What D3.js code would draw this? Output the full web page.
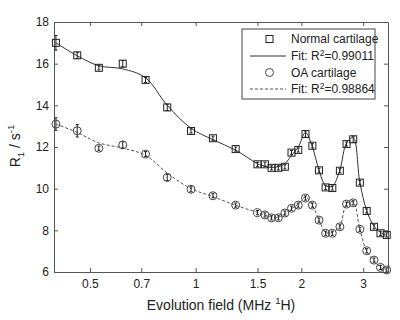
<!DOCTYPE html>
<html lang="en">
<head>
    <meta charset="UTF-8">
    <script src="https://cdn.jsdelivr.net/npm/d3@7/dist/d3.min.js"></script>
    <style>
        body { margin: 0; background: white; }
        svg { font-family: "Liberation Sans", Arial, sans-serif; }
        .axis path, .axis line { stroke: #555; }
        .axis text { fill: #222; font-size: 12px; }
    </style>
</head>
<body>
<svg id="chart" width="400" height="320"></svg>
<script>
    // evolution field, MHz 1H
    var field = [0.40, 0.46, 0.53, 0.62, 0.72, 0.83, 0.97, 1.12, 1.30, 1.50, 1.575, 1.645, 1.72, 1.795,
                 1.875, 1.96, 2.055, 2.15, 2.245, 2.345, 2.45, 2.575, 2.69, 2.81, 2.935, 3.07, 3.22, 3.36, 3.50];

    // normal cartilage R1 (s^-1), error and fit
    var normalR1 = [17.0, 16.4, 15.8, 16.0, 15.22, 13.9, 12.77, 12.42, 11.9, 11.17, 11.17, 11.0, 11.0, 11.05,
                    11.73, 11.86, 12.62, 12.06, 10.88, 10.06, 10.03, 10.86, 12.14, 12.37, 10.29, 8.93, 8.17, 7.86, 7.78];
    var normalErr = [0.35, 0.15, 0.1, 0.15, 0.12, 0.15, 0.1, 0.1, 0.1, 0.1, 0.1, 0.1, 0.1, 0.1,
                     0.1, 0.1, 0.15, 0.1, 0.1, 0.1, 0.1, 0.1, 0.1, 0.15, 0.1, 0.1, 0.1, 0.1, 0.1];
    var normalFit = [17.0, 16.38, 15.9, 15.75, 15.32, 14.0, 12.9, 12.35, 11.85, 11.2, 11.08, 11.02, 11.06, 11.2,
                     11.6, 12.0, 12.7, 12.0, 10.9, 10.15, 10.12, 10.9, 12.2, 12.45, 10.3, 8.95, 8.2, 7.9, 7.75];

    // OA cartilage
    var oaR1 = [13.1, 12.78, 11.94, 12.1, 11.66, 10.54, 9.97, 9.66, 9.21, 8.85, 8.74, 8.6, 8.6, 8.83,
                9.06, 9.21, 9.55, 9.21, 8.49, 7.86, 7.86, 8.17, 9.26, 9.32, 8.05, 7.02, 6.57, 6.22, 6.1];
    var oaErr = [0.3, 0.3, 0.1, 0.15, 0.12, 0.15, 0.12, 0.1, 0.1, 0.1, 0.1, 0.1, 0.1, 0.1,
                 0.1, 0.1, 0.1, 0.1, 0.1, 0.1, 0.1, 0.1, 0.1, 0.1, 0.1, 0.1, 0.1, 0.1, 0.1];
    var oaFit = [13.1, 12.7, 12.2, 11.95, 11.6, 10.75, 10.0, 9.62, 9.2, 8.86, 8.73, 8.63, 8.63, 8.8,
                 9.04, 9.26, 9.6, 9.2, 8.5, 7.9, 7.9, 8.2, 9.28, 9.36, 8.05, 7.0, 6.55, 6.22, 6.08];

    var xTicks = [0.5, 0.7, 1, 1.5, 2, 3];
    var yTicks = [6, 8, 10, 12, 14, 16, 18];
    var legendLabels = ["Normal cartilage", "Fit: R", "OA cartilage", "Fit: R"];
    var legendR2 = ["", "=0.99011", "", "=0.98864"];

    var margin = { top: 22, right: 12, bottom: 48, left: 54 };
    var width = 400 - margin.left - margin.right;
    var height = 320 - margin.top - margin.bottom;

    var svg = d3.select("#chart");
    var g = svg.append("g").attr("transform", "translate(" + margin.left + "," + margin.top + ")");

    var x = d3.scaleLog().domain([0.395, 3.53]).range([0, width]);
    var y = d3.scaleLinear().domain([6, 18]).range([height, 0]);

    // axes on all four sides, ticks pointing inward
    g.append("g").attr("class", "axis")
        .attr("transform", "translate(0," + height + ")")
        .call(d3.axisBottom(x).tickValues(xTicks).tickFormat(d3.format("")).tickSizeInner(-4).tickSizeOuter(0).tickPadding(7));
    g.append("g").attr("class", "axis")
        .call(d3.axisTop(x).tickValues(xTicks).tickFormat("").tickSizeInner(-4).tickSizeOuter(0));
    g.append("g").attr("class", "axis")
        .call(d3.axisLeft(y).tickValues(yTicks).tickSizeInner(-4).tickSizeOuter(0).tickPadding(5));
    g.append("g").attr("class", "axis")
        .attr("transform", "translate(" + width + ",0)")
        .call(d3.axisRight(y).tickValues(yTicks).tickFormat("").tickSizeInner(-4).tickSizeOuter(0));

    // fit curves
    var line = d3.line()
        .x(function(d) { return x(d[0]); })
        .y(function(d) { return y(d[1]); })
        .curve(d3.curveCatmullRom.alpha(0.5));

    g.append("path")
        .datum(d3.zip(field, normalFit))
        .attr("d", line)
        .attr("fill", "none")
        .attr("stroke", "#333")
        .attr("stroke-width", 1);
    g.append("path")
        .datum(d3.zip(field, oaFit))
        .attr("d", line)
        .attr("fill", "none")
        .attr("stroke", "#555")
        .attr("stroke-width", 1)
        .attr("stroke-dasharray", "3,2");

    // error bars
    function drawErrors(vals, errs) {
        var eg = g.append("g");
        field.forEach(function(f, i) {
            var cx = x(f);
            eg.append("line")
                .attr("x1", cx).attr("x2", cx)
                .attr("y1", y(vals[i] - errs[i])).attr("y2", y(vals[i] + errs[i]))
                .attr("stroke", "#222").attr("stroke-width", 1);
            [vals[i] - errs[i], vals[i] + errs[i]].forEach(function(v) {
                eg.append("line")
                    .attr("x1", cx - 1.5).attr("x2", cx + 1.5)
                    .attr("y1", y(v)).attr("y2", y(v))
                    .attr("stroke", "#222").attr("stroke-width", 1);
            });
        });
    }
    drawErrors(normalR1, normalErr);
    drawErrors(oaR1, oaErr);

    // markers
    g.append("g").selectAll("rect")
        .data(d3.zip(field, normalR1))
        .enter().append("rect")
        .attr("x", function(d) { return x(d[0]) - 3.5; })
        .attr("y", function(d) { return y(d[1]) - 3.5; })
        .attr("width", 7).attr("height", 7)
        .attr("fill", "none").attr("stroke", "#222").attr("stroke-width", 1);

    g.append("g").selectAll("circle")
        .data(d3.zip(field, oaR1))
        .enter().append("circle")
        .attr("cx", function(d) { return x(d[0]); })
        .attr("cy", function(d) { return y(d[1]); })
        .attr("r", 4)
        .attr("fill", "none").attr("stroke", "#444").attr("stroke-width", 1);

    // legend
    var lg = svg.append("g").attr("transform", "translate(242,29)");
    lg.append("rect").attr("width", 133).attr("height", 70)
        .attr("fill", "white").attr("stroke", "#444").attr("stroke-width", 1);
    var rowY = [10, 27, 43.5, 60];
    legendLabels.forEach(function(lab, i) {
        var t = lg.append("text").attr("x", 49).attr("y", rowY[i] + 4)
            .attr("font-size", "12px").attr("fill", "#222").text(lab);
        if (legendR2[i]) {
            t.append("tspan").attr("dy", -4).attr("font-size", "8.5px").text("2");
            t.append("tspan").attr("dy", 4).text(legendR2[i]);
        }
    });
    lg.append("rect").attr("x", 24).attr("y", rowY[0] - 3.5).attr("width", 7).attr("height", 7)
        .attr("fill", "none").attr("stroke", "#222");
    lg.append("line").attr("x1", 8).attr("x2", 44).attr("y1", rowY[1]).attr("y2", rowY[1])
        .attr("stroke", "#333");
    lg.append("circle").attr("cx", 27.5).attr("cy", rowY[2]).attr("r", 4)
        .attr("fill", "none").attr("stroke", "#444");
    lg.append("line").attr("x1", 8).attr("x2", 44).attr("y1", rowY[3]).attr("y2", rowY[3])
        .attr("stroke", "#555").attr("stroke-dasharray", "3,2");

    // axis titles
    var xt = svg.append("text").attr("x", margin.left + 167).attr("y", 310)
        .attr("text-anchor", "middle").attr("font-size", "14px").attr("fill", "#222")
        .text("Evolution field (MHz ");
    xt.append("tspan").attr("dy", -6).attr("font-size", "9.5px").text("1");
    xt.append("tspan").attr("dy", 6).text("H)");

    var yt = svg.append("text")
        .attr("transform", "translate(20,146) rotate(-90)")
        .attr("text-anchor", "middle").attr("font-size", "14px").attr("fill", "#222")
        .text("R");
    yt.append("tspan").attr("dy", 4).attr("font-size", "9.5px").text("1");
    yt.append("tspan").attr("dy", -4).text(" / s");
    yt.append("tspan").attr("dy", -6).attr("font-size", "9.5px").text("-1");
</script>
</body>
</html>
